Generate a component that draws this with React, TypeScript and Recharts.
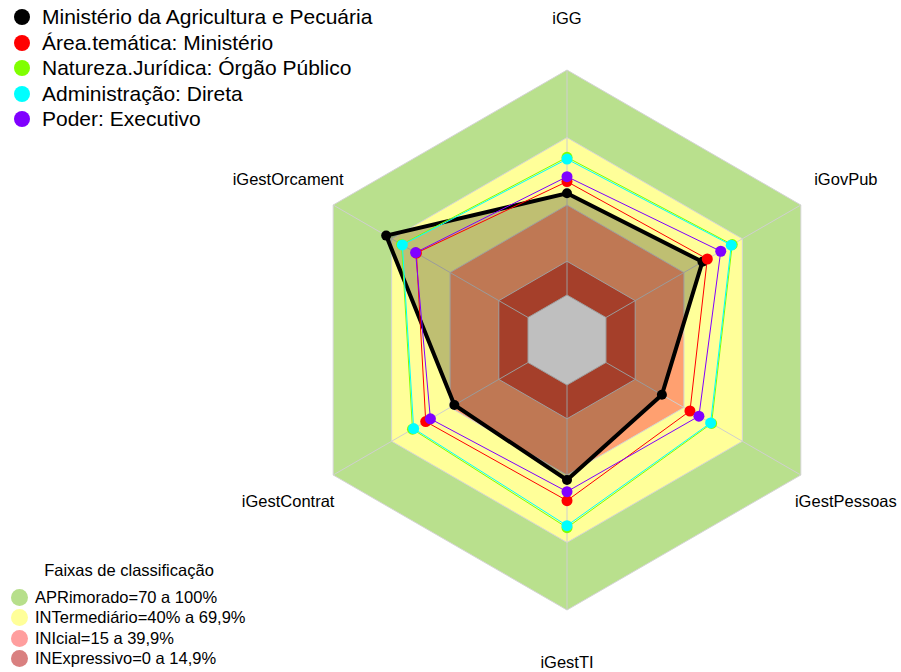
import { PolarAngleAxis, PolarGrid, PolarRadiusAxis, Radar, RadarChart } from "recharts";

const W = 901;
const H = 672;
const CX = 567;
const CY = 340;
const OUTER_R = 270;
const LABEL_R = 322;
const R_MIN = -20;
const R_MAX = 100;
const FONT = '"Liberation Sans", Arial, sans-serif';

const axes = ["iGG", "iGovPub", "iGestPessoas", "iGestTI", "iGestContrat", "iGestOrcament"];

// indicator values per axis (same order as axes)
const ministerio = [45.2, 49.5, 28.7, 42.2, 37.8, 72.8];
const areaTematica = [50.4, 52.0, 43.1, 51.4, 52.5, 57.3];
const naturezaJuridica = [61.2, 64.8, 54.2, 63.4, 59.3, 64.9];
const administracao = [60.4, 64.3, 53.7, 62.5, 58.7, 64.5];
const poder = [52.6, 58.9, 47.7, 47.4, 50.1, 57.7];

// classification bands (outer limit of each ring), drawn back to front
const bandLimits = [100, 70, 40, 15];
const bandFills = ["#B9E08D", "#FFFF99", "#FFA070", "#DC5538"];
// empty centre below zero, drawn over the spokes
const centerLimit = 0;

const legendBands = [
  "APRimorado=70 a 100%",
  "INTermediário=40% a 69,9%",
  "INIcial=15 a 39,9%",
  "INExpressivo=0 a 14,9%",
];
const legendBandColors = ["#B7DF8B", "#FFFF99", "#FF9E9E", "#D98080"];

const series = [
  { key: "ministerio", name: "Ministério da Agricultura e Pecuária", values: ministerio, color: "#000000" },
  { key: "area", name: "Área.temática: Ministério", values: areaTematica, color: "#FF0000" },
  { key: "natureza", name: "Natureza.Jurídica: Órgão Público", values: naturezaJuridica, color: "#80FF00" },
  { key: "admin", name: "Administração: Direta", values: administracao, color: "#00FFFF" },
  { key: "poder", name: "Poder: Executivo", values: poder, color: "#8000FF" },
];

const data = axes.map((axis, i) => {
  const row: Record<string, string | number> = { axis, center: centerLimit };
  bandLimits.forEach((b, j) => (row["band" + j] = b));
  series.forEach((s) => (row[s.key] = s.values[i]));
  return row;
});

function AxisLabel(props: any) {
  const { x, y, payload } = props;
  const dx = x - CX;
  const dy = y - CY;
  const len = Math.sqrt(dx * dx + dy * dy) || 1;
  return (
    <text
      x={CX + (dx / len) * LABEL_R}
      y={CY + (dy / len) * LABEL_R}
      dy="0.35em"
      textAnchor="middle"
      fontSize={16.5}
      fontFamily={FONT}
      fill="#000"
    >
      {payload.value}
    </text>
  );
}

const chartProps = {
  width: W,
  height: H,
  data,
  cx: CX,
  cy: CY,
  outerRadius: OUTER_R,
  margin: { top: 0, right: 0, bottom: 0, left: 0 },
};

export default function App() {
  return (
    <div style={{ position: "absolute", left: 0, top: 0, width: W, height: H, background: "#fff", fontFamily: FONT }}>
      <div style={{ position: "absolute", left: 0, top: 0 }}>
        <RadarChart {...chartProps}>
          <PolarAngleAxis dataKey="axis" tick={false} axisLine={false} tickLine={false} />
          <PolarRadiusAxis domain={[R_MIN, R_MAX]} tick={false} axisLine={false} />
          {bandLimits.map((b, j) => (
            <Radar
              key={b}
              dataKey={"band" + j}
              stroke="#D4D4D4"
              strokeWidth={1}
              fill={bandFills[j]}
              fillOpacity={1}
              dot={false}
              isAnimationActive={false}
            />
          ))}
        </RadarChart>
      </div>
      <div style={{ position: "absolute", left: 0, top: 0 }}>
        <RadarChart {...chartProps}>
          <PolarGrid polarRadius={[]} stroke="#CFCFCF" />
          <PolarAngleAxis dataKey="axis" tick={AxisLabel} axisLine={false} tickLine={false} />
          <PolarRadiusAxis domain={[R_MIN, R_MAX]} tick={false} axisLine={false} />
          <Radar
            dataKey="center"
            stroke="#D4D4D4"
            strokeWidth={1}
            fill="#FFFFFF"
            fillOpacity={1}
            dot={false}
            isAnimationActive={false}
          />
          {series.map((s, i) => (
            <Radar
              key={s.key}
              dataKey={s.key}
              stroke={s.color}
              strokeWidth={i === 0 ? 4 : 1}
              fill={i === 0 ? "#000" : "none"}
              fillOpacity={i === 0 ? 0.25 : 0}
              dot={{ r: i === 0 ? 5 : 5.5, fill: s.color, stroke: "none", fillOpacity: 1 }}
              isAnimationActive={false}
            />
          ))}
        </RadarChart>
      </div>

      {series.map((s, i) => (
        <div
          key={s.key}
          style={{ position: "absolute", left: 14, top: 17 + i * 25.5 - 13, height: 26, display: "flex", alignItems: "center", fontSize: 21, color: "#000", whiteSpace: "nowrap" }}
        >
          <span style={{ width: 16, height: 16, borderRadius: 8, background: s.color, marginRight: 12 }} />
          {s.name}
        </div>
      ))}

      <div style={{ position: "absolute", left: 0, width: 258, top: 561, textAlign: "center", fontSize: 16.5, color: "#000" }}>
        Faixas de classificação
      </div>
      {legendBands.map((label, i) => (
        <div
          key={label}
          style={{ position: "absolute", left: 11, top: 597 + i * 20.6 - 10, height: 20, display: "flex", alignItems: "center", fontSize: 16.5, color: "#000", whiteSpace: "nowrap" }}
        >
          <span style={{ width: 17, height: 17, borderRadius: 9, background: legendBandColors[i], marginRight: 7 }} />
          {label}
        </div>
      ))}
    </div>
  );
}
